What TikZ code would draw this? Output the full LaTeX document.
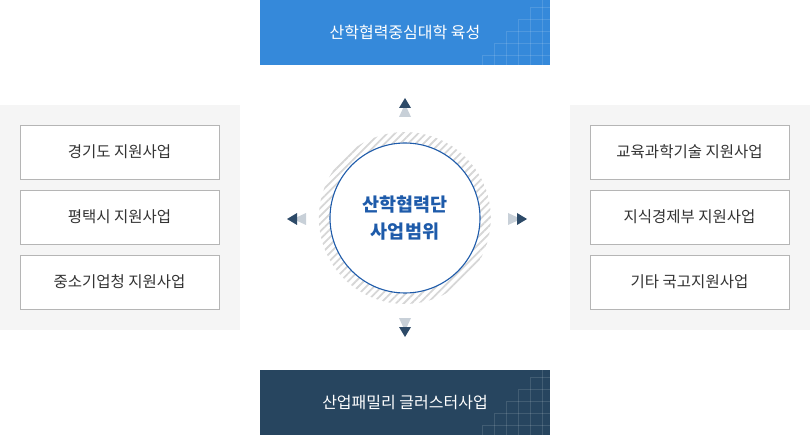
\documentclass[tikz,border=0pt]{standalone}
\usepackage{fontspec}
\setmainfont{Noto Sans CJK KR}
\usetikzlibrary{patterns.meta,fadings}

\definecolor{topblue}{HTML}{3589DA}
\definecolor{navy}{HTML}{27455F}
\definecolor{panelgray}{HTML}{F5F5F5}
\definecolor{boxline}{HTML}{B5B5B5}
\definecolor{textgray}{HTML}{333333}
\definecolor{circblue}{HTML}{1E5BAA}
\definecolor{hatchgray}{HTML}{D6D6D6}
\definecolor{arrowdark}{HTML}{2D4A68}
\definecolor{arrowlight}{HTML}{C8D0D8}

\pgfdeclareverticalshading{ringmask}{100bp}{color(0bp)=(black); color(8bp)=(black);
  color(26bp)=(white); color(74bp)=(white); color(92bp)=(black); color(100bp)=(black)}
\pgfdeclarefading{ringfade}{\pgfuseshading{ringmask}}

\tikzset{twin/.pic={
    \fill[arrowlight] (-6,9) -- (0,-4) -- (6,9) -- cycle;
    \fill[arrowdark] (-6,0) -- (0,-10) -- (6,0) -- cycle;}}

\begin{document}
\begin{tikzpicture}[x=1pt,y=-1pt,
    item/.style={draw=boxline,fill=white,minimum width=199pt,minimum height=54pt,inner sep=0pt,
      text=textgray,font=\fontsize{15.5}{17}\selectfont},
    banner/.style={minimum width=290pt,minimum height=65pt,inner sep=0pt,text=white,
      font=\fontsize{16}{18}\selectfont},
    gridline/.style={white,opacity=0.13,line width=0.8pt}]

\useasboundingbox (0,0) rectangle (810,435);

% side panels
\fill[panelgray] (0,105) rectangle (240,330);
\fill[panelgray] (570,105) rectangle (810,330);

\node[item] (gyeonggi) at (119.5,152) {경기도 지원사업};
\node[item] (pyeongtaek) at (119.5,217) {평택시 지원사업};
\node[item] (smba) at (119.5,282) {중소기업청 지원사업};

\node[item] (edu) at (689.5,152) {교육과학기술 지원사업};
\node[item] (mke) at (689.5,217) {지식경제부 지원사업};
\node[item] (etc) at (689.5,282) {기타 국고지원사업};

% top and bottom banners
\node[banner,fill=topblue] (goal) at (405,32.5) {산학협력중심대학 육성};
\node[banner,fill=navy] (cluster) at (405,402.5) {산업패밀리 글러스터사업};

\foreach \b in {goal,cluster}{
  \begin{scope}[shift={(\b.north east)}]
    \draw[gridline] (-8,0) -- (-8,65);
    \foreach \k in {0,...,4}{
      \draw[gridline] ({-20-12*\k},{8+12*\k}) -- (0,{8+12*\k});
      \draw[gridline] ({-20-12*\k},{8+12*\k}) -- ({-20-12*\k},65);
    }
  \end{scope}
}

% center
\fill[pattern={Lines[angle=45,distance=5.5pt,line width=1.8pt]},pattern color=hatchgray,even odd rule,
  path fading=ringfade,fit fading=true,fading angle=-45]
  (405,218) circle[radius=86pt] (405,218) circle[radius=75pt];
\node[circle,draw=circblue,line width=1.1pt,fill=white,minimum size=150pt,inner sep=0pt,
  align=center,text=circblue,font=\fontsize{18.5}{27}\selectfont\bfseries] (core) at (405,218)
  {산학협력단\\사업범위};

\pic at (405,108) {twin};
\pic[rotate=180] at (405,327) {twin};
\pic[rotate=90] at (297,219) {twin};
\pic[rotate=-90] at (517,219) {twin};

\end{tikzpicture}
\end{document}
